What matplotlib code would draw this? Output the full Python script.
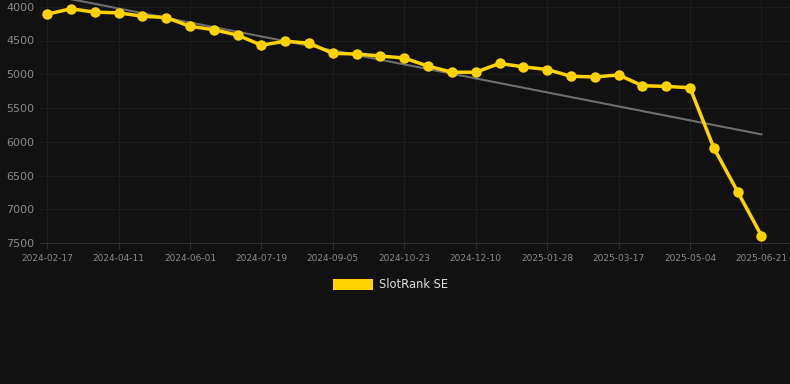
import numpy as np
import matplotlib.pyplot as plt
from matplotlib.patches import Patch

# rank history (lower is better, axis is inverted)
ranks = [4110, 4030, 4080, 4090, 4140, 4160, 4290, 4340, 4420, 4570,
         4510, 4540, 4690, 4700, 4730, 4760, 4880, 4970, 4970, 4840,
         4890, 4930, 5030, 5040, 5010, 5170, 5180, 5200, 6090, 6740, 7390]
tick_labels = ['2024-02-17', '2024-04-11', '2024-06-01', '2024-07-19', '2024-09-05',
               '2024-10-23', '2024-12-10', '2025-01-28', '2025-03-17', '2025-05-04',
               '2025-06-21']
label_every = 3
series_name = 'SlotRank SE'

BG = '#111111'
GOLD = '#FFD200'

x = np.arange(len(ranks))

fig = plt.figure(figsize=(7.9, 3.84), dpi=100, facecolor=BG)
ax = fig.add_axes([40 / 790, 1 - 243 / 384, 750 / 790, 243 / 384])
ax.set_facecolor(BG)

#linear trend over the whole series
coef = np.polyfit(x, ranks, 1)
ax.plot(x, np.polyval(coef, x), color='#6e6e6e', linewidth=1.5, zorder=2)

ax.plot(x, ranks, color=GOLD, linewidth=2.5, marker='o', markersize=7.5,
        markeredgewidth=0, zorder=3)

ax.set_xlim(-0.3, len(ranks) - 1 + 1.2)
ax.set_ylim(7500, 3900)
ax.set_yticks([4000, 4500, 5000, 5500, 6000, 6500, 7000, 7500])
ax.set_xticks(x[::label_every])
ax.set_xticklabels(tick_labels)

ax.grid(True, color='#1c1c1c', linewidth=0.8)
for s in ['top', 'right', 'left']:
    ax.spines[s].set_visible(False)
ax.spines['bottom'].set_color('#2e2e2e')

ax.tick_params(axis='y', colors='#8a8a8a', labelsize=8, length=0, pad=4)
ax.tick_params(axis='x', colors='#2e2e2e', labelcolor='#8a8a8a', labelsize=6.5, length=4, pad=4)

handles = [Patch(facecolor=GOLD, edgecolor='none', label=series_name)]
leg = fig.legend(handles=handles, loc='center', bbox_to_anchor=(0.5 - 4 / 790, 1 - 285 / 384),
                 frameon=False, handlelength=3.4, handleheight=1.0, fontsize=8.3,
                 labelcolor='#dddddd', handletextpad=0.6)

fig.savefig('out.png', dpi=100, facecolor=BG)
